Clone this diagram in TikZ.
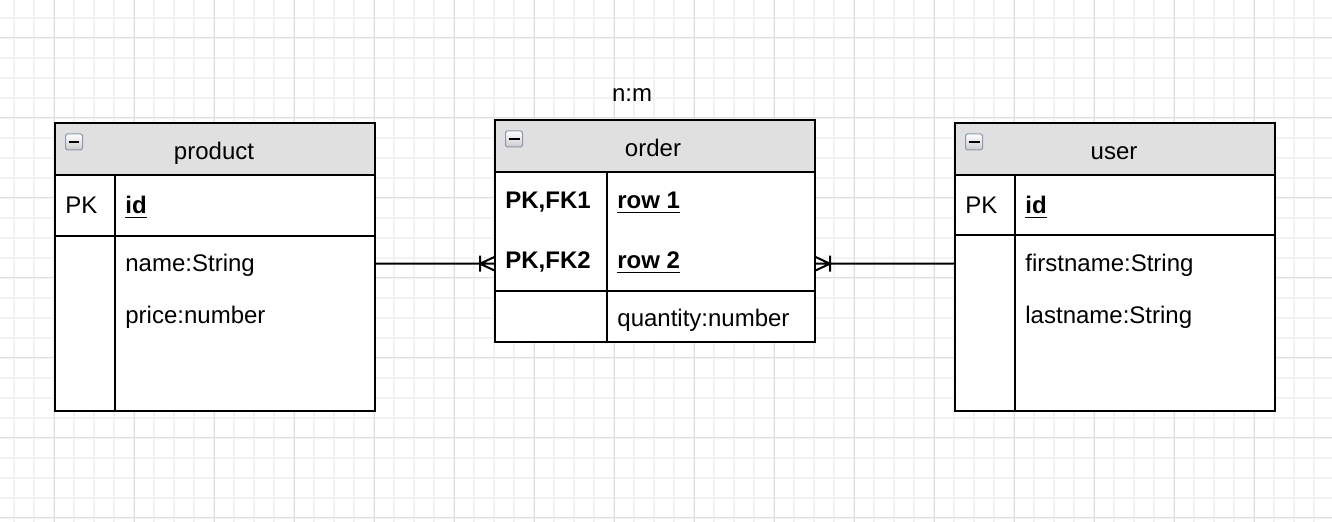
\documentclass[tikz,border=0pt]{standalone}
\usepackage{fontspec}
\setmainfont{Liberation Sans}
\usetikzlibrary{positioning}
\definecolor{gridminor}{HTML}{F2F2F2}
\definecolor{gridmajor}{HTML}{DEDEDE}
\definecolor{headgray}{HTML}{E0E0E0}
\definecolor{iconedge}{HTML}{8A9AAC}
\begin{document}
\begin{tikzpicture}[x=0.5pt,y=-0.5pt,
  every node/.style={font=\fontsize{12}{14}\selectfont,inner sep=0pt},
  tbl/.style={draw,fill=white,line width=1pt,outer sep=0pt,minimum width=160pt,anchor=north west},
  head/.style={draw,fill=headgray,line width=1pt,outer sep=0pt,minimum width=160pt,minimum height=26pt,anchor=north west},
  tline/.style={line width=1pt},
  rel/.style={line width=1pt},
  icon/.style={draw=iconedge,line width=0.5pt,rounded corners=0.8pt,top color=white,bottom color=gray!40,minimum width=8.5pt,minimum height=8pt},
  lbl/.style={anchor=base west},
  ttl/.style={anchor=base}]
\path[use as bounding box] (0,0) rectangle (1332,522);
% grid
\foreach \x in {14,34,...,1334} \draw[gridminor,line width=0.6pt] (\x,0) -- (\x,522);
\foreach \y in {18,38,...,518} \draw[gridminor,line width=0.6pt] (0,\y) -- (1332,\y);
\foreach \x in {54,134,...,1334} \draw[gridmajor,line width=0.5pt] (\x,0) -- (\x,522);
\foreach \y in {38,118,...,518} \draw[gridmajor,line width=0.5pt] (0,\y) -- (1332,\y);
% product
\node[tbl,minimum height=144pt] (product) at (55,123) {};
\node[head] (producthead) at (product.north west) {};
\draw[tline] (55,236) -- (375,236);
\draw[tline] (115,175) -- (115,411);
\node[icon] (producticon) at (74,142) {\rule{5.5pt}{1.3pt}};
\node[ttl] (producttitle) at (214,160) {product};
\node[lbl] (productpk) at (65,214) {PK};
\node[lbl] (productid) at (125,214) {\textbf{\underline{id}}};
\node[lbl] (productname) at (125,272) {name:String};
\node[lbl] (productprice) at (125,324) {price:number};
% order
\node[ttl] (nm) at (632,102) {n:m};
\node[tbl,minimum height=111pt] (order) at (495,120) {};
\node[head] (orderhead) at (order.north west) {};
\draw[tline] (495,291) -- (815,291);
\draw[tline] (607,172) -- (607,342);
\node[icon] (ordericon) at (514,139) {\rule{5.5pt}{1.3pt}};
\node[ttl] (ordertitle) at (653,157) {order};
\node[lbl] (orderfka) at (505,209) {\textbf{PK,FK1}};
\node[lbl] (orderrowa) at (617,209) {\textbf{\underline{row 1}}};
\node[lbl] (orderfkb) at (505,269) {\textbf{PK,FK2}};
\node[lbl] (orderrowb) at (617,269) {\textbf{\underline{row 2}}};
\node[lbl] (orderqty) at (617,327) {quantity:number};
% user
\node[tbl,minimum height=144pt] (user) at (955,123) {};
\node[head] (userhead) at (user.north west) {};
\draw[tline] (955,235) -- (1275,235);
\draw[tline] (1015,175) -- (1015,411);
\node[icon] (usericon) at (974,142) {\rule{5.5pt}{1.3pt}};
\node[ttl] (usertitle) at (1114,160) {user};
\node[lbl] (userpk) at (965,214) {PK};
\node[lbl] (userid) at (1025,214) {\textbf{\underline{id}}};
\node[lbl] (userfirst) at (1025,272) {firstname:String};
\node[lbl] (userlast) at (1025,324) {lastname:String};
% relations
\draw[rel] (product.east |- orderfkb.mid) -- (order.west |- orderfkb.mid)
  ++(0,-7) -- ++(-15,7) -- ++(15,7) ++(-15,-15) -- ++(0,16);
\draw[rel] (user.west |- orderfkb.mid) -- (order.east |- orderfkb.mid)
  ++(0,-7) -- ++(15,7) -- ++(-15,7) ++(15,-15) -- ++(0,16);
\end{tikzpicture}
\end{document}
